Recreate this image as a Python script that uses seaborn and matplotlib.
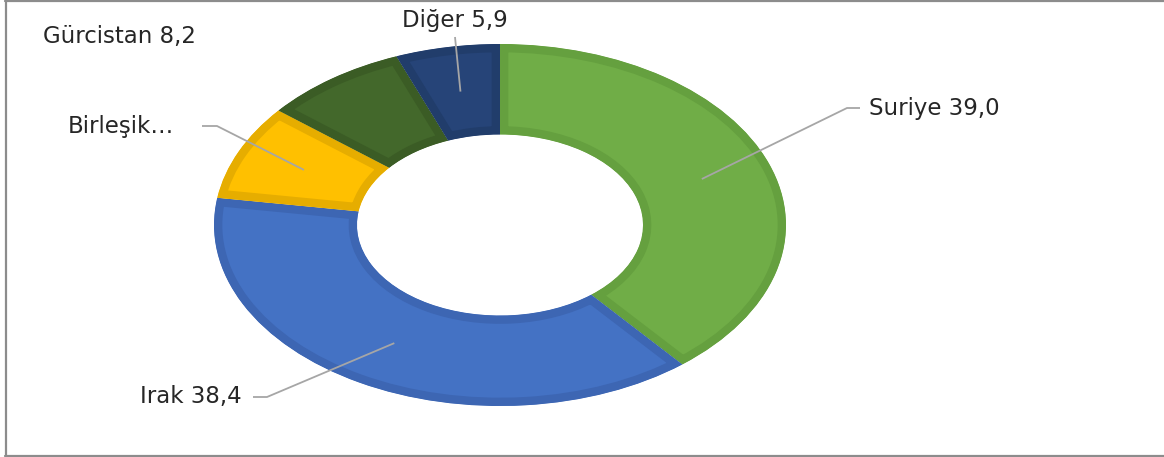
import numpy as np
import matplotlib
matplotlib.use("Agg")
import matplotlib.pyplot as plt
from matplotlib.lines import Line2D
import seaborn as sns

# %% veriler
ulkeler = ["Suriye", "Irak", "Birleşik…", "Gürcistan", "Diğer"]
paylar = [39.0, 38.4, 8.5, 8.2, 5.9]
etiketler = ["Suriye 39,0", "Irak 38,4", "Birleşik…", "Gürcistan 8,2", "Diğer 5,9"]
renkler = ["#70AD47", "#4472C4", "#FFC000", "#43682B", "#264478"]
kenar_renk = ["#65A03F", "#3D66B3", "#E6AD00", "#3B5C25", "#213D6B"]

sns.set_theme(style="white")
plt.rcParams["font.family"] = ["DejaVu Sans"]

# piksel -> veri koordinati (merkez 500,225 ; yaricap 286 x 181)
CX, CY, RX, RY = 500, 225, 286, 181
def px(x, y):
    return ((x - CX) / RX, (CY - y) / RY)

fig = plt.figure(figsize=(11.64, 4.57), dpi=100)
ax = fig.add_axes([0, 0, 1, 1])

wedges, _ = ax.pie(paylar, startangle=90, counterclock=False, colors=renkler,
                   wedgeprops=dict(width=0.5, linewidth=12, joinstyle="miter"))
# kenar bandi sadece dilimin icinde kalsin
for w, ec in zip(wedges, kenar_renk):
    w.set_edgecolor(ec)
    w.set_clip_on(True)
    w.set_clip_path(w)

ax.set_aspect("auto")
ax.set_xlim(px(0, 0)[0], px(1164, 0)[0])
ax.set_ylim(px(0, 457)[1], px(0, 0)[1])
ax.axis("off")

# etiket yerlesimi: (metin x, taban y, hizalama, dirsek, uc)
yerlesim = {
    "Suriye": (869, 115, "left", (847, 108), (860, 108)),
    "Irak": (242, 403, "right", (267, 397), (253, 397)),
    "Birleşik…": (174, 133, "right", (217, 126), (202, 126)),
    "Gürcistan": (43, 43, "left", None, None),
    "Diğer": (455, 27, "center", (455, 37), None),
}

for w, ulke, etiket in zip(wedges, ulkeler, etiketler):
    tx, ty, ha, dirsek, uc = yerlesim[ulke]
    if dirsek is not None:
        aci = np.deg2rad((w.theta1 + w.theta2) / 2)
        bas = (0.75 * np.cos(aci), 0.75 * np.sin(aci))
        noktalar = [bas, px(*dirsek)]
        if uc is not None:
            noktalar.append(px(*uc))
        xs, ys = zip(*noktalar)
        ax.plot(xs, ys, color="#A6A6A6", lw=1.3, solid_capstyle="butt")
    x, y = px(tx, ty)
    ax.text(x, y, etiket, ha=ha, va="baseline", fontsize=16.5, color="#262626")

# cerceve
for (x0, y0, x1, y1) in [(5.5, 0, 5.5, 456), (5, 456, 1164, 456), (5, 0.5, 1164, 0.5)]:
    fig.add_artist(Line2D([x0 / 1164, x1 / 1164], [1 - y0 / 457, 1 - y1 / 457],
                          transform=fig.transFigure, color="#8C8C8C", lw=1.6))

fig.savefig("out.png", dpi=100, facecolor="white")
